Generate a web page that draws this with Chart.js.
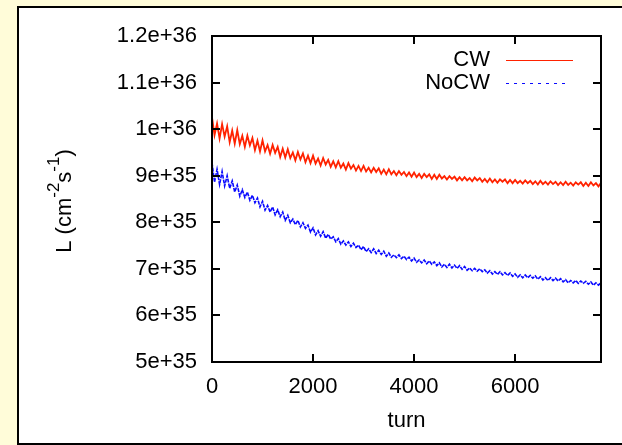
<!DOCTYPE html>
<html>
<head>
<meta charset="utf-8">
<script src="https://cdn.jsdelivr.net/npm/chart.js@4.4.1/dist/chart.umd.min.js"></script>
<style>
    html, body { margin: 0; padding: 0; background: #fffcd9; }
    #frame {
        position: absolute; left: 17px; top: 6px;
        width: 605px; height: 435px;
        background: #ffffff;
        border: 2px solid #000; border-right: none;
    }
    #wrap { position: absolute; left: 0; top: 0; width: 622px; height: 445px; }
</style>
</head>
<body>
<div id="frame"></div>
<div id="wrap"><canvas id="lumiChart" width="622" height="445"></canvas></div>
<script>
// ==============================
// Data (luminosity in units of 1e35 cm^-2 s^-1)
// ==============================

const seriesNames = ["CW", "NoCW"];

const turns = [
    0,50,100,150,200,250,300,350,400,450,500,550,600,650,700,750,800,850,900,950,
    1000,1050,1100,1150,1200,1250,1300,1350,1400,1450,1500,1550,1600,1650,1700,1750,1800,1850,1900,1950,
    2000,2050,2100,2150,2200,2250,2300,2350,2400,2450,2500,2550,2600,2650,2700,2750,2800,2850,2900,2950,
    3000,3050,3100,3150,3200,3250,3300,3350,3400,3450,3500,3550,3600,3650,3700,3750,3800,3850,3900,3950,
    4000,4050,4100,4150,4200,4250,4300,4350,4400,4450,4500,4550,4600,4650,4700,4750,4800,4850,4900,4950,
    5000,5050,5100,5150,5200,5250,5300,5350,5400,5450,5500,5550,5600,5650,5700,5750,5800,5850,5900,5950,
    6000,6050,6100,6150,6200,6250,6300,6350,6400,6450,6500,6550,6600,6650,6700,6750,6800,6850,6900,6950,
    7000,7050,7100,7150,7200,7250,7300,7350,7400,7450,7500,7550,7600,7650,7700
];

const cwLumi = [
    10.25,9.87,10.12,9.80,10.11,9.84,10.06,9.72,9.97,9.69,
    9.98,9.68,9.86,9.62,9.86,9.65,9.81,9.55,9.75,9.52,
    9.76,9.52,9.66,9.47,9.66,9.49,9.62,9.40,9.58,9.39,
    9.57,9.38,9.50,9.33,9.51,9.35,9.48,9.29,9.43,9.27,
    9.43,9.26,9.37,9.22,9.38,9.24,9.34,9.19,9.31,9.18,
    9.31,9.17,9.26,9.13,9.27,9.15,9.23,9.11,9.21,9.10,
    9.21,9.09,9.17,9.07,9.17,9.08,9.16,9.04,9.13,9.03,
    9.14,9.03,9.10,9.01,9.10,9.02,9.08,8.99,9.07,8.98,
    9.07,8.97,9.04,8.95,9.04,8.97,9.03,8.93,9.02,8.93,
    9.02,8.94,8.99,8.92,8.99,8.93,8.98,8.90,8.97,8.90,
    8.97,8.90,8.95,8.88,8.96,8.90,8.95,8.87,8.93,8.86,
    8.94,8.86,8.92,8.85,8.92,8.87,8.92,8.84,8.91,8.84,
    8.91,8.84,8.89,8.83,8.90,8.84,8.89,8.82,8.88,8.81,
    8.89,8.82,8.87,8.81,8.88,8.82,8.87,8.80,8.86,8.80,
    8.87,8.80,8.85,8.79,8.86,8.81,8.86,8.78,8.85,8.78,
    8.86,8.79,8.84,8.77,8.85
];

const nocwLumi = [
    9.28,8.86,9.14,8.81,9.09,8.78,9.00,8.73,8.89,8.65,
    8.80,8.56,8.70,8.53,8.65,8.47,8.58,8.42,8.52,8.33,
    8.45,8.26,8.36,8.22,8.33,8.16,8.27,8.12,8.22,8.04,
    8.15,7.99,8.07,7.95,8.04,7.90,7.99,7.87,7.94,7.79,
    7.88,7.73,7.82,7.70,7.80,7.66,7.74,7.64,7.69,7.58,
    7.65,7.53,7.60,7.51,7.58,7.48,7.55,7.46,7.51,7.41,
    7.48,7.37,7.43,7.35,7.43,7.33,7.40,7.31,7.38,7.27,
    7.34,7.25,7.30,7.24,7.30,7.22,7.27,7.20,7.25,7.17,
    7.23,7.14,7.19,7.13,7.19,7.11,7.17,7.10,7.15,7.07,
    7.13,7.04,7.10,7.03,7.10,7.02,7.08,7.01,7.07,6.99,
    7.05,6.97,7.02,6.96,7.01,6.95,7.00,6.94,6.98,6.91,
    6.96,6.89,6.94,6.88,6.94,6.87,6.92,6.86,6.91,6.84,
    6.89,6.82,6.87,6.81,6.87,6.81,6.86,6.80,6.85,6.78,
    6.83,6.76,6.81,6.75,6.81,6.75,6.80,6.74,6.79,6.72,
    6.77,6.70,6.75,6.70,6.75,6.69,6.74,6.69,6.73,6.67,
    6.72,6.65,6.70,6.65,6.70
];

const xTicks = [0, 2000, 4000, 6000];
const yTickVals = [5, 6, 7, 8, 9, 10, 11, 12];
const yTickLabels = ["5e+35", "6e+35", "7e+35", "8e+35", "9e+35", "1e+36", "1.1e+36", "1.2e+36"];

// ==============================
// Plugins: gnuplot style frame, ticks, legend, y title
// ==============================

const FONT = "'Liberation Sans', Arial, Helvetica, sans-serif";

const gnuplotFrame = {
    id: "gnuplotFrame",
    afterDatasetsDraw(chart) {
        const ctx = chart.ctx;
        const a = chart.chartArea;
        const xs = chart.scales.x;
        const ys = chart.scales.y;

        ctx.save();
        ctx.strokeStyle = "#000";
        ctx.lineWidth = 2;
        ctx.strokeRect(a.left, a.top, a.right - a.left, a.bottom - a.top);

        ctx.beginPath();
        yTickVals.forEach(v => {
            const y = Math.round(ys.getPixelForValue(v));
            ctx.moveTo(a.left, y);
            ctx.lineTo(a.left + 8, y);
            ctx.moveTo(a.right, y);
            ctx.lineTo(a.right - 8, y);
        });
        xTicks.forEach(v => {
            const x = Math.round(xs.getPixelForValue(v));
            ctx.moveTo(x, a.bottom);
            ctx.lineTo(x, a.bottom - 8);
            ctx.moveTo(x, a.top);
            ctx.lineTo(x, a.top + 8);
        });
        ctx.stroke();

        // legend
        ctx.font = "22px " + FONT;
        ctx.fillStyle = "#000";
        ctx.textAlign = "right";
        ctx.textBaseline = "middle";
        const rows = [
            { y: 60, x2: 573 },
            { y: 83, x2: 569 }
        ];
        chart.data.datasets.forEach((ds, i) => {
            const r = rows[i];
            ctx.fillText(ds.label, 490, r.y);
            ctx.beginPath();
            ctx.lineWidth = 1;
            ctx.strokeStyle = ds.borderColor;
            ctx.setLineDash(i === 1 ? [3, 5] : []);
            ctx.moveTo(506, r.y + 0.5);
            ctx.lineTo(r.x2, r.y + 0.5);
            ctx.stroke();
            ctx.setLineDash([]);
        });

        // y axis title: L (cm^-2 s^-1)
        const parts = [
            { t: "L (cm", size: 22, up: 0 },
            { t: "-2", size: 17, up: 12 },
            { t: "s", size: 22, up: 0 },
            { t: "-1", size: 17, up: 12 },
            { t: ")", size: 22, up: 0 }
        ];
        ctx.textAlign = "left";
        ctx.textBaseline = "alphabetic";
        let total = 0;
        parts.forEach(p => {
            ctx.font = p.size + "px " + FONT;
            p.w = ctx.measureText(p.t).width;
            total += p.w;
        });
        ctx.translate(71, (a.top + a.bottom) / 2 + 2);
        ctx.rotate(-Math.PI / 2);
        let cx = -total / 2;
        parts.forEach(p => {
            ctx.font = p.size + "px " + FONT;
            ctx.fillText(p.t, cx, -p.up);
            cx += p.w;
        });
        ctx.restore();
    }
};

// ==============================
// Luminosity Line Chart
// ==============================

Chart.defaults.color = "#000";
Chart.defaults.font.family = FONT;

const lumiCtx = document.getElementById("lumiChart");

new Chart(lumiCtx, {
    type: "line",
    data: {
        datasets: [{
            label: seriesNames[0],
            data: turns.map((t, i) => ({ x: t, y: cwLumi[i] })),
            borderColor: "#ff2200",
            borderWidth: 1.8,
            pointRadius: 0,
            tension: 0
        }, {
            label: seriesNames[1],
            data: turns.map((t, i) => ({ x: t, y: nocwLumi[i] })),
            borderColor: "#0a0aff",
            borderWidth: 1.6,
            borderDash: [4, 1],
            pointRadius: 0,
            tension: 0
        }]
    },
    options: {
        responsive: false,
        animation: false,
        devicePixelRatio: 1,
        layout: {
            padding: { left: 0, top: 36, right: 21, bottom: 0 }
        },
        plugins: {
            legend: { display: false },
            tooltip: { enabled: false }
        },
        scales: {
            x: {
                type: "linear",
                min: 0,
                max: 7700,
                afterBuildTicks: axis => {
                    axis.ticks = xTicks.map(v => ({ value: v }));
                },
                afterFit: s => { s.height = 83; },
                grid: { display: false, drawTicks: false },
                border: { display: false },
                ticks: {
                    padding: 12,
                    maxRotation: 0,
                    font: { size: 22 },
                    callback: v => String(v)
                },
                title: {
                    display: true,
                    text: "turn",
                    font: { size: 22 },
                    padding: { top: 0, bottom: 11 }
                }
            },
            y: {
                min: 5,
                max: 12,
                afterBuildTicks: axis => {
                    axis.ticks = yTickVals.map(v => ({ value: v }));
                },
                afterFit: s => { s.width = 212; },
                grid: { display: false, drawTicks: false },
                border: { display: false },
                ticks: {
                    padding: 15,
                    font: { size: 22 },
                    callback: v => yTickLabels[yTickVals.indexOf(v)]
                }
            }
        }
    },
    plugins: [gnuplotFrame]
});
</script>
</body>
</html>
